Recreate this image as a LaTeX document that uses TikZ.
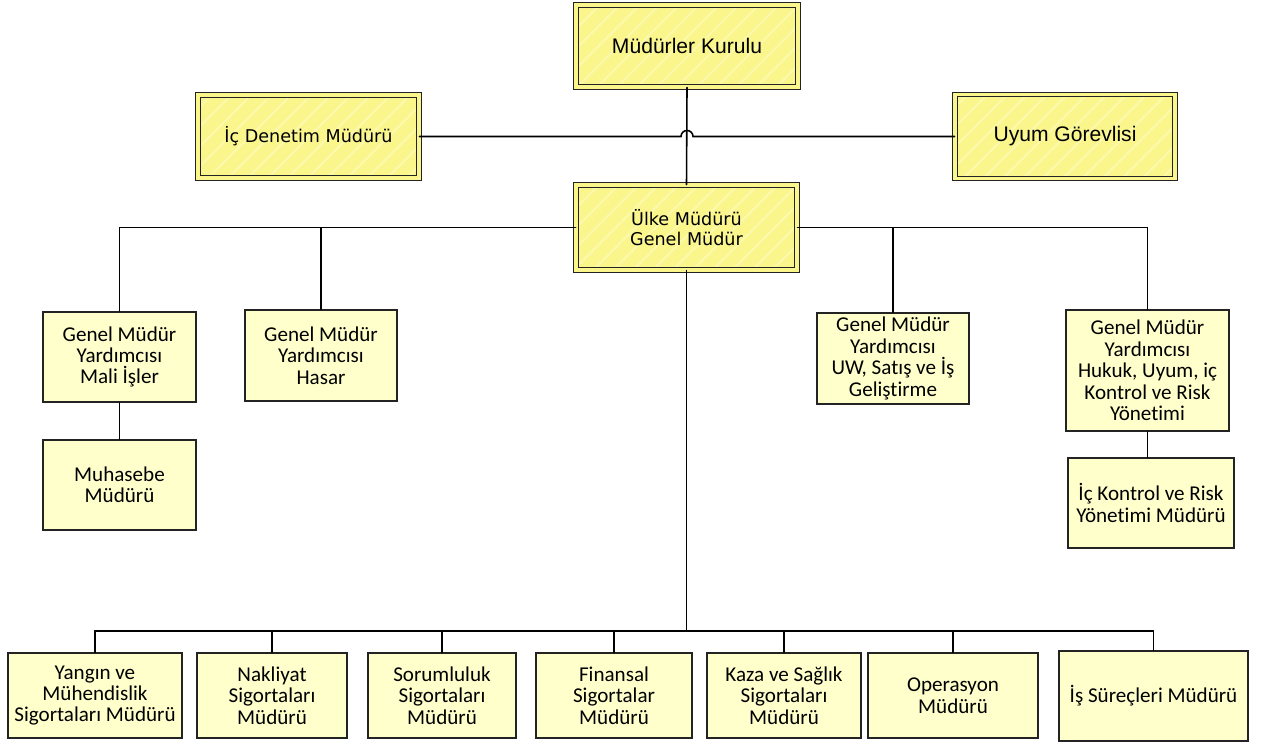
\documentclass[tikz,border=0pt]{standalone}
\usepackage{fontspec}
\setmainfont{Carlito}[Ligatures=NoCommon]
\newfontfamily\arialfont{Liberation Sans}
\newfontfamily\tahomafont{DejaVu Sans}
\usetikzlibrary{calc,patterns.meta}

\begin{document}
\begin{tikzpicture}
		[x=0.2mm,y=-0.2mm,line cap=round,
		%Styles
		size/.style 2 args={minimum width=#1*0.2mm,minimum height=#2*0.2mm},
		unit box/.style={draw=boxline,line width=0.8pt,fill=unitfill,inner sep=0pt,align=center,font=\fontsize{12}{12.2}\selectfont},
		top box/.style={draw=boxline,line width=0.6pt,double=topfill,double distance=2pt,inner sep=0pt,align=center,
			preaction={fill=topfill},
			preaction={pattern={Lines[angle=45,distance=8pt,line width=1.2pt]},pattern color=stripe}},
		arial text/.style={font=\arialfont\fontsize{12}{14}\selectfont},
		tahoma text/.style={font=\tahomafont\fontsize{10}{11.3}\selectfont},
		link/.style={line width=0.9pt,black}
		]
		
		%Colors
		\definecolor{topfill}{RGB}{250,246,140}
		\definecolor{stripe}{RGB}{252,249,172}
		\definecolor{unitfill}{RGB}{255,255,204}
		\definecolor{boxline}{RGB}{35,35,35}
		
		\useasboundingbox (0,0) rectangle (1265,744);
		
		%Board and top management
		\node[top box,arial text,size={222}{82}] (kurul) at (687,46) {Müdürler Kurulu};
		\node[top box,tahoma text,size={221}{83}] (icdenetim) at (308.5,136.5) {İç Denetim Müdürü};
		\node[top box,arial text,size={220}{84}] (uyum) at (1065,136.5) {Uyum Görevlisi};
		\node[top box,tahoma text,size={221}{85}] (uelke) at (686.5,227.5) {Ülke Müdürü\\Genel Müdür};
		
		%Deputy general managers
		\node[unit box,size={153}{90}] (mali) at (119.5,357) {Genel Müdür\\Yardımcısı\\Mali İşler};
		\node[unit box,size={152}{91}] (hasar) at (321,355.5) {Genel Müdür\\Yardımcısı\\Hasar};
		\node[unit box,size={152}{91}] (uw) at (893,358.5) {Genel Müdür\\Yardımcısı\\UW, Satış ve İş\\Geliştirme};
		\node[unit box,size={163}{121}] (hukuk) at (1147.5,370.5) {Genel Müdür\\Yardımcısı\\Hukuk, Uyum, iç\\Kontrol ve Risk\\Yönetimi};
		\node[unit box,size={153}{90}] (muhasebe) at (119.5,485) {Muhasebe\\Müdürü};
		\node[unit box,size={166}{90}] (ickontrol) at (1151,503) {İç Kontrol ve Risk\\Yönetimi Müdürü};
		
		%Department managers
		\node[unit box,size={174}{85}] (yangin) at (95,695.5) {Yangın ve\\Mühendislik\\Sigortaları Müdürü};
		\node[unit box,size={150}{85}] (nakliyat) at (272,695.5) {Nakliyat\\Sigortaları\\Müdürü};
		\node[unit box,size={148}{85}] (sorum) at (442,695.5) {Sorumluluk\\Sigortaları\\Müdürü};
		\node[unit box,size={156}{85}] (finans) at (614,695.5) {Finansal\\Sigortalar\\Müdürü};
		\node[unit box,size={154}{85}] (kaza) at (784,695.5) {Kaza ve Sağlık\\Sigortaları\\Müdürü};
		\node[unit box,size={170}{85}] (operasyon) at (953,695.5) {Operasyon\\Müdürü};
		\node[unit box,size={189}{90}] (issurec) at (1153.5,696) {İş Süreçleri Müdürü};
		
		%Connectors
		\draw[link] (kurul.south) -- (uelke.north);
		\draw[link] (icdenetim.east) -- ($(icdenetim.east -| kurul.south)+(-6,0)$)
			arc[start angle=180,end angle=0,radius=1.2mm] -- (uyum.west);
		\draw[link] (uelke.west) -| (mali.north);
		\draw[link] (uelke.west) -| (hasar.north);
		\draw[link] (uelke.east) -| (uw.north);
		\draw[link] (uelke.east) -| (hukuk.north);
		\draw[link] (mali.south) -- (muhasebe.north);
		\draw[link] (hukuk.south) -- (hukuk.south |- ickontrol.north);
		
		\coordinate (busrow) at (0,631);
		\draw[link] (uelke.south) -- (uelke.south |- busrow) coordinate (bus);
		\foreach \unit in {yangin,nakliyat,sorum,finans,kaza,operasyon,issurec}
			\draw[link] (bus) -| (\unit.north);
\end{tikzpicture}
\end{document}
